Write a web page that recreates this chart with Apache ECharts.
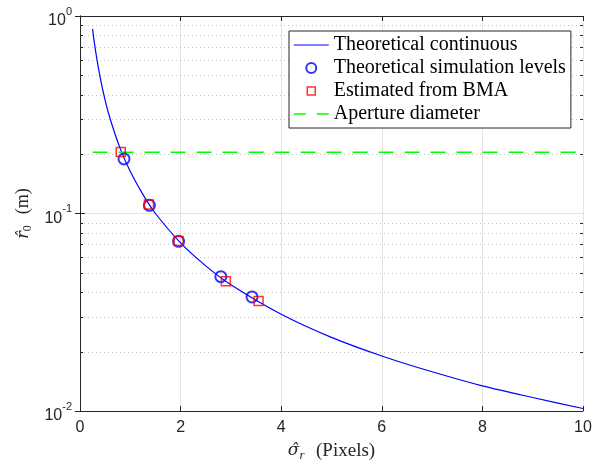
<!DOCTYPE html>
<html>
<head>
<meta charset="utf-8">
<script src="https://cdn.jsdelivr.net/npm/echarts@6/dist/echarts.min.js"></script>
<style>
    html, body { margin: 0; padding: 0; background: #fff; }
    #chart { width: 598px; height: 464px; }
</style>
</head>
<body>
<div id="chart"></div>
<script>
// 连续理论曲线
var curveX = [0.25, 0.3, 0.4, 0.5, 0.6, 0.8, 1, 1.25, 1.5, 2, 2.5, 3, 4, 5, 6, 7, 8, 9, 10];
var curveY = [0.86, 0.69, 0.49, 0.374, 0.301, 0.213, 0.163, 0.125, 0.100, 0.0710, 0.0543, 0.0436, 0.0309, 0.0236, 0.0190, 0.0158, 0.0134, 0.0117, 0.0103];
// 理论仿真点
var simX = [0.875, 1.38, 1.96, 2.80, 3.42];
var simY = [0.189, 0.110, 0.0723, 0.0479, 0.0378];
// BMA 估计点
var bmaX = [0.81, 1.37, 1.96, 2.90, 3.55];
var bmaY = [0.205, 0.111, 0.0725, 0.0454, 0.0361];
// 孔径直径
var apertureX = [0.25, 10];
var apertureY = [0.204, 0.204];
// 对数轴次刻度
var minorVals = [0.02, 0.03, 0.04, 0.05, 0.06, 0.07, 0.08, 0.09, 0.2, 0.3, 0.4, 0.5, 0.6, 0.7, 0.8, 0.9];

var names = ['Theoretical continuous', 'Theoretical simulation levels', 'Estimated from BMA', 'Aperture diameter'];
var axisColor = '#262626';
var clear = 'rgba(0,0,0,0)';

function pairs(xs, ys) {
    return xs.map(function (x, i) { return [x, ys[i]]; });
}

var myChart = echarts.init(document.getElementById('chart'));

var option = {
    backgroundColor: '#fff',
    animation: false,
    grid: { left: 80, right: 15, top: 16, bottom: 53, outerBoundsMode: 'none' },
    legend: {
        orient: 'vertical',
        left: 289,
        top: 31,
        padding: [4, 5, 4, 4],
        itemWidth: 35,
        itemHeight: 10,
        itemGap: 3,
        borderColor: axisColor,
        borderWidth: 1,
        backgroundColor: '#fff',
        textStyle: { fontFamily: 'Liberation Serif', fontSize: 20, color: '#000' },
        data: [{
            name: names[0],
            itemStyle: { color: clear, borderColor: clear, borderWidth: 0 },
            lineStyle: { color: '#0000ff', width: 1.2, type: 'solid' }
        }, {
            name: names[1],
            icon: 'circle',
            itemStyle: { color: clear, borderColor: '#0000ff', borderWidth: 2 }
        }, {
            name: names[2],
            icon: 'path://M-1,-1M0,0H8V8H0ZM9,9',
            itemStyle: { color: clear, borderColor: '#ff0000', borderWidth: 1.5 }
        }, {
            name: names[3],
            itemStyle: { color: clear, borderColor: clear, borderWidth: 0 },
            lineStyle: { color: '#00ff00', width: 1.5, type: [12, 11] }
        }]
    },
    xAxis: [{
        type: 'value',
        min: 0, max: 10, interval: 2,
        axisLine: { lineStyle: { color: axisColor } },
        axisTick: { inside: true, length: 5, lineStyle: { color: axisColor } },
        axisLabel: { color: axisColor, fontSize: 16, fontFamily: 'Liberation Sans', margin: 9 },
        splitLine: { show: true, lineStyle: { color: '#e4e4e4' } },
        name: '{it|σ̂}{sub|r}  (Pixels)',
        nameLocation: 'middle',
        nameGap: 29,
        nameTextStyle: {
            fontFamily: 'Liberation Serif', fontSize: 19, color: axisColor,
            rich: {
                it: { fontFamily: 'DejaVu Serif', fontStyle: 'italic', fontSize: 17, color: axisColor },
                sub: { fontFamily: 'Liberation Serif', fontStyle: 'italic', fontSize: 13, color: axisColor, padding: [9, 2, 0, 0] }
            }
        }
    }, {
        type: 'value',
        position: 'top',
        min: 0, max: 10, interval: 2,
        axisLine: { lineStyle: { color: axisColor } },
        axisTick: { inside: true, length: 5, lineStyle: { color: axisColor } },
        axisLabel: { show: false },
        splitLine: { show: false }
    }],
    yAxis: [{
        type: 'log',
        logBase: 10,
        min: 0.01, max: 1,
        axisLine: { show: true, lineStyle: { color: axisColor } },
        axisTick: { show: true, inside: true, length: 5, lineStyle: { color: axisColor } },
        axisLabel: {
            color: axisColor, margin: 8,
            formatter: function (v) {
                var e = Math.round(Math.log(v) / Math.LN10);
                return '{b|10}{sup|' + e + '}';
            },
            rich: {
                b: { fontFamily: 'Liberation Sans', fontSize: 16, color: axisColor, verticalAlign: 'middle', padding: [10, 0, 0, 0] },
                sup: { fontFamily: 'Liberation Sans', fontSize: 11, color: axisColor, verticalAlign: 'middle', padding: [0, 0, 9, 0] }
            }
        },
        splitLine: { show: true, lineStyle: { color: '#e4e4e4' } },
        name: '{it|r̂}{sub|0}  (m)',
        nameLocation: 'middle',
        nameGap: 46,
        nameTextStyle: {
            fontFamily: 'Liberation Serif', fontSize: 18, color: axisColor,
            rich: {
                it: { fontFamily: 'DejaVu Serif', fontStyle: 'italic', fontSize: 16, color: axisColor },
                sub: { fontFamily: 'Liberation Serif', fontSize: 12, color: axisColor, padding: [8, 2, 0, 0] }
            }
        }
    }, {
        type: 'log',
        logBase: 10,
        position: 'right',
        min: 0.01, max: 1,
        axisLine: { show: true, lineStyle: { color: axisColor } },
        axisTick: { show: true, inside: true, length: 5, lineStyle: { color: axisColor } },
        axisLabel: { show: false },
        splitLine: { show: false }
    }],
    series: [{
        // 次网格线和次刻度
        type: 'custom',
        silent: true,
        z: 1,
        data: minorVals.map(function (v) { return [0, v]; }),
        renderItem: function (params, api) {
            var v = api.value(1);
            var a = api.coord([0, v]);
            var b = api.coord([10, v]);
            var y = Math.round(a[1]) + 0.5;
            return {
                type: 'group',
                children: [{
                    type: 'line',
                    shape: { x1: a[0], y1: y, x2: b[0], y2: y },
                    style: { stroke: '#c4c4c4', lineWidth: 1, lineDash: [1, 3] }
                }, {
                    type: 'line',
                    shape: { x1: a[0], y1: y, x2: a[0] + 3, y2: y },
                    style: { stroke: axisColor, lineWidth: 1 }
                }, {
                    type: 'line',
                    shape: { x1: b[0] - 3, y1: y, x2: b[0], y2: y },
                    style: { stroke: axisColor, lineWidth: 1 }
                }]
            };
        }
    }, {
        name: names[0],
        type: 'line',
        data: pairs(curveX, curveY),
        smooth: 0.3,
        showSymbol: false,
        symbol: 'none',
        z: 3,
        lineStyle: { color: '#0000ff', width: 1.2 },
        itemStyle: { color: '#0000ff' }
    }, {
        name: names[1],
        type: 'scatter',
        data: pairs(simX, simY),
        symbol: 'circle',
        symbolSize: 11,
        z: 4,
        itemStyle: { color: clear, borderColor: '#0000ff', borderWidth: 2 }
    }, {
        name: names[2],
        type: 'scatter',
        data: pairs(bmaX, bmaY),
        symbol: 'rect',
        symbolSize: 9,
        z: 5,
        itemStyle: { color: clear, borderColor: '#ff0000', borderWidth: 1.5 }
    }, {
        name: names[3],
        type: 'line',
        data: pairs(apertureX, apertureY),
        symbol: 'none',
        z: 3,
        lineStyle: { color: '#00ff00', width: 1.5, type: [15, 11] },
        itemStyle: { color: '#00ff00' }
    }]
};

myChart.setOption(option);
</script>
</body>
</html>
